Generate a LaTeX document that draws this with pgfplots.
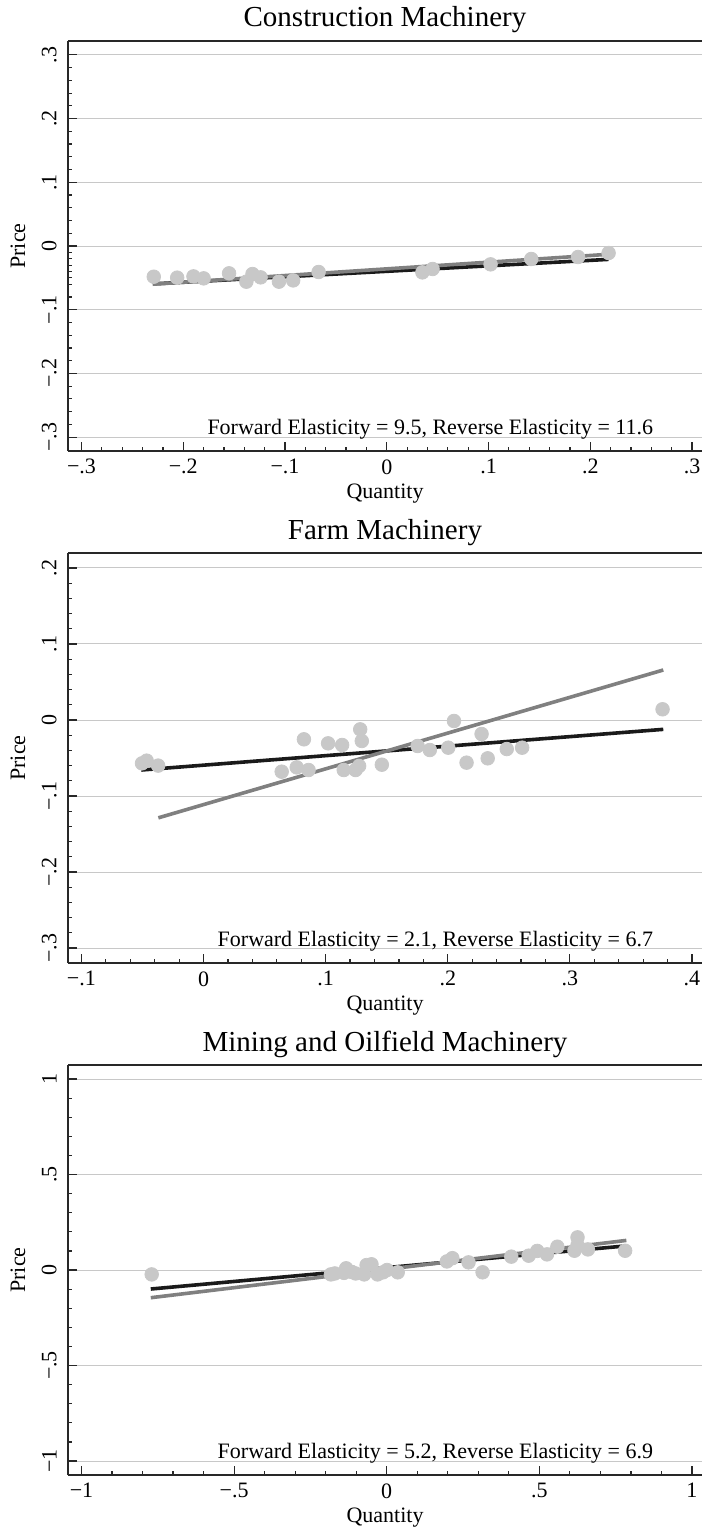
\documentclass[border=0pt]{standalone}
\usepackage{fontspec}
\setmainfont{Liberation Serif}
\usepackage{pgfplots}
\pgfplotsset{compat=1.18}
\definecolor{dotgray}{RGB}{200,200,200}
\definecolor{linegray}{RGB}{128,128,128}
\definecolor{lineblack}{RGB}{26,26,26}
\definecolor{gridgray}{RGB}{200,200,200}
\definecolor{axisblack}{RGB}{40,40,40}
\pgfplotsset{
 panel/.style={
  scale only axis, width=317pt, height=205pt,
  axis x line*=bottom, axis y line*=left,
  axis line style={axisblack, line width=0.8pt, -},
  tick align=inside,
  major tick length=4.5pt, minor tick length=2pt,
  every tick/.style={axisblack, line width=0.6pt},
  minor tick num=4,
  ymajorgrids, major grid style={gridgray, line width=0.5pt},
  tick label style={font=\fontsize{11}{13}\selectfont},
  label style={font=\fontsize{11}{13}\selectfont},
  yticklabel style={rotate=90, anchor=south, inner xsep=0pt, inner ysep=5.5pt},
  xticklabel style={inner sep=0pt, yshift=-4pt, anchor=north},
  xlabel={Quantity}, ylabel={Price},
  xlabel style={at={(axis description cs:0.5,0)}, anchor=center, yshift=-21.5pt},
  ylabel style={at={(axis description cs:-0.079,0.5)}, anchor=center},
  title style={font=\fontsize{14.5}{16}\selectfont, at={(0.5,1)}, anchor=base, yshift=1pt},
  clip=false,
 },
 blk/.style={lineblack, line width=1.8pt},
 gry/.style={linegray, line width=1.8pt},
 dots/.style={only marks, mark=*, color=dotgray, mark size=3.4pt},
}
\begin{document}
\begin{tikzpicture}
\useasboundingbox (0,0) rectangle (351pt,-766pt);
% ---------- Panel 1 ----------
\begin{axis}[panel, at={(34pt,-225.5pt)}, anchor=south west,
  title={Construction Machinery},
  xmin=-0.3133, xmax=0.3098, ymin=-0.3218, ymax=0.3218,
  xtick={-0.3,-0.2,-0.1,0,0.1,0.2,0.3},
  xticklabels={−.3,−.2,−.1,0,.1,.2,.3},
  ytick={-0.3,-0.2,-0.1,0,0.1,0.2,0.3},
  yticklabels={−.3,−.2,−.1,0,.1,.2,.3},
  extra y ticks={-0.01,-0.02,-0.03,-0.04,-0.05,-0.06},
  extra y tick labels={},
  extra y tick style={grid=none, major tick length=2pt},
]
\addplot[blk] coordinates {(-0.23,-0.0595) (0.218,-0.021)};
\addplot[gry] coordinates {(-0.23,-0.060) (0.22,-0.0128)};
\addplot[dots] coordinates {
(-0.229,-0.0482) (-0.206,-0.0497) (-0.190,-0.0477) (-0.180,-0.0508)
(-0.155,-0.0429) (-0.138,-0.0560) (-0.132,-0.0440) (-0.124,-0.0492)
(-0.106,-0.0560) (-0.092,-0.0540) (-0.067,-0.0408) (0.035,-0.0414)
(0.045,-0.0361) (0.102,-0.0288) (0.142,-0.0204) (0.188,-0.0173)
(0.218,-0.0110)};
\node[anchor=base east, font=\fontsize{11}{13}\selectfont] at (rel axis cs:0.934,0.041) {Forward Elasticity = 9.5, Reverse Elasticity = 11.6};
\end{axis}
\draw[axisblack, line width=0.8pt] (34pt,-20.5pt) -- (351pt,-20.5pt);
% ---------- Panel 2 ----------
\begin{axis}[panel, at={(34pt,-481.5pt)}, anchor=south west,
  title={Farm Machinery},
  xmin=-0.111, xmax=0.4082, ymin=-0.3197, ymax=0.2197,
  xtick={-0.1,0,0.1,0.2,0.3,0.4},
  xticklabels={−.1,0,.1,.2,.3,.4},
  ytick={-0.3,-0.2,-0.1,0,0.1,0.2},
  yticklabels={−.3,−.2,−.1,0,.1,.2},
]
\addplot[blk] coordinates {(-0.051,-0.0658) (0.3765,-0.0123)};
\addplot[gry] coordinates {(-0.037,-0.1287) (0.3765,0.0658)};
\addplot[dots] coordinates {
(-0.0504,-0.0570) (-0.0466,-0.0535) (-0.0372,-0.0600) (0.0640,-0.0680)
(0.0763,-0.0623) (0.0822,-0.0254) (0.0860,-0.0658) (0.1020,-0.0307)
(0.1135,-0.0329) (0.1148,-0.0658) (0.1245,-0.0658) (0.1274,-0.0605)
(0.1283,-0.0123) (0.1296,-0.0276) (0.1460,-0.0588) (0.1753,-0.0342)
(0.1853,-0.0395) (0.2004,-0.0364) (0.2051,-0.0013) (0.2154,-0.0561)
(0.2277,-0.0184) (0.2327,-0.0504) (0.2483,-0.0382) (0.2609,-0.0364)
(0.3759,0.0141)};
\node[anchor=base east, font=\fontsize{11}{13}\selectfont] at (rel axis cs:0.934,0.041) {Forward Elasticity = 2.1, Reverse Elasticity = 6.7};
\end{axis}
\draw[axisblack, line width=0.8pt] (34pt,-276.5pt) -- (351pt,-276.5pt);
% ---------- Panel 3 ----------
\begin{axis}[panel, at={(34pt,-737.5pt)}, anchor=south west,
  title={Mining and Oilfield Machinery},
  xmin=-1.0442, xmax=1.0328, ymin=-1.0733, ymax=1.0733,
  xtick={-1,-0.5,0,0.5,1},
  xticklabels={−1,−.5,0,.5,1},
  ytick={-1,-0.5,0,0.5,1},
  yticklabels={−1,−.5,0,.5,1},
]
\addplot[blk] coordinates {(-0.773,-0.0995) (0.78,0.1257)};
\addplot[gry] coordinates {(-0.773,-0.145) (0.785,0.155)};
\addplot[dots] coordinates {
(-0.770,-0.023) (-0.183,-0.023) (-0.170,-0.018) (-0.140,-0.015)
(-0.133,0.009) (-0.115,-0.010) (-0.102,-0.018) (-0.074,-0.023)
(-0.066,0.026) (-0.050,0.030) (-0.030,-0.023) (-0.012,-0.012)
(0.001,0.000) (0.036,-0.012) (0.197,0.045) (0.215,0.062)
(0.268,0.040) (0.314,-0.012) (0.408,0.070) (0.465,0.075)
(0.493,0.100) (0.525,0.082) (0.559,0.122) (0.615,0.101)
(0.625,0.171) (0.625,0.130) (0.659,0.108) (0.781,0.101)};
\node[anchor=base east, font=\fontsize{11}{13}\selectfont] at (rel axis cs:0.934,0.041) {Forward Elasticity = 5.2, Reverse Elasticity = 6.9};
\end{axis}
\draw[axisblack, line width=0.8pt] (34pt,-532.5pt) -- (351pt,-532.5pt);
\end{tikzpicture}
\end{document}
